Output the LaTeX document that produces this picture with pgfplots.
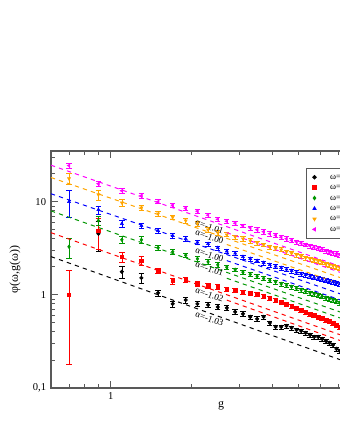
\documentclass[border=0pt]{standalone}
\usepackage{fontspec}
\setmainfont{Liberation Serif}
\usepackage{pgfplots}
\pgfplotsset{compat=1.18}
\usepackage{pgfplotstable}

\definecolor{cgreen}{RGB}{0,150,0}
\definecolor{corange}{RGB}{255,165,0}
\definecolor{cmagenta}{RGB}{255,0,255}
\definecolor{cblue}{RGB}{0,0,255}
\definecolor{cred}{RGB}{255,0,0}

% g, phi, error
\pgfplotstableread{
g p e
0.9 4.53 1.6
1.1 1.77 0.28
1.3 1.52 0.2
1.5 1.05 0.08
1.7 0.80 0.06
1.9 0.88 0.06
2.1 0.80 0.05
2.3 0.78 0.05
2.5 0.74 0.045
2.7 0.725 0.04
2.9 0.657 0.035
3.1 0.625 0.033
3.3 0.580 0.03
3.5 0.552 0.03
3.7 0.580 0.03
3.9 0.500 0.025
4.1 0.453 0.023
4.3 0.453 0.023
4.5 0.464 0.023
4.7 0.442 0.022
4.9 0.420 0.021
5.1 0.410 0.02
5.3 0.390 0.02
5.5 0.372 0.019
5.7 0.354 0.018
5.9 0.354 0.018
6.1 0.337 0.017
6.3 0.320 0.016
6.5 0.305 0.015
6.7 0.290 0.015
6.9 0.263 0.013
7.1 0.250 0.013
7.3 0.244 0.012
}\tblk

\pgfplotstableread{
g p e
0.7 1.00 0.82
0.9 4.88 1.8
1.1 2.56 0.3
1.3 2.32 0.25
1.5 1.81 0.12
1.7 1.41 0.1
1.9 1.45 0.09
2.1 1.31 0.08
2.3 1.25 0.07
2.5 1.22 0.07
2.7 1.16 0.06
2.9 1.13 0.06
3.1 1.077 0.055
3.3 1.05 0.05
3.5 1.025 0.05
3.7 0.975 0.05
3.9 0.929 0.045
4.1 0.884 0.044
4.3 0.841 0.042
4.5 0.800 0.04
4.7 0.762 0.038
4.9 0.725 0.036
5.1 0.690 0.035
5.3 0.657 0.033
5.5 0.625 0.031
5.7 0.602 0.03
5.9 0.580 0.029
6.1 0.559 0.028
6.3 0.538 0.027
6.5 0.519 0.026
6.7 0.500 0.025
6.9 0.476 0.024
7.1 0.453 0.023
7.3 0.442 0.022
}\tred

\pgfplotstableread{
g p e
0.7 3.28 0.8
0.9 6.25 0.7
1.1 3.90 0.35
1.3 3.90 0.3
1.5 3.20 0.2
1.7 2.90 0.17
1.9 2.66 0.15
2.1 2.44 0.13
2.3 2.26 0.12
2.5 2.10 0.11
2.7 1.98 0.1
2.9 1.86 0.09
3.1 1.75 0.09
3.3 1.66 0.08
3.5 1.58 0.08
3.7 1.50 0.075
3.9 1.43 0.07
4.1 1.38 0.07
4.3 1.31 0.065
4.5 1.265 0.063
4.7 1.22 0.06
4.9 1.175 0.058
5.1 1.13 0.056
5.3 1.09 0.054
5.5 1.05 0.052
5.7 1.025 0.05
5.9 0.988 0.049
6.1 0.963 0.048
6.3 0.929 0.046
6.5 0.906 0.045
6.7 0.884 0.044
6.9 0.851 0.042
7.1 0.820 0.041
7.3 0.800 0.04
}\tgrn

\pgfplotstableread{
g p e
0.7 10.0 3.2
0.9 8.2 0.8
1.1 5.8 0.5
1.3 5.52 0.4
1.5 4.88 0.3
1.7 4.31 0.25
1.9 4.0 0.22
2.1 3.67 0.2
2.3 3.53 0.18
2.5 3.20 0.16
2.7 2.94 0.15
2.9 2.79 0.14
3.1 2.56 0.13
3.3 2.44 0.12
3.5 2.32 0.11
3.7 2.21 0.11
3.9 2.10 0.1
4.1 2.03 0.1
4.3 1.95 0.1
4.5 1.88 0.09
4.7 1.81 0.09
4.9 1.746 0.087
5.1 1.68 0.084
5.3 1.64 0.082
5.5 1.58 0.079
5.7 1.54 0.077
5.9 1.50 0.075
6.1 1.47 0.073
6.3 1.43 0.071
6.5 1.40 0.07
6.7 1.38 0.069
6.9 1.346 0.067
7.1 1.31 0.065
7.3 1.30 0.065
}\tblu

\pgfplotstableread{
g p e
0.7 17.7 2.4
0.9 11.9 1.5
1.1 9.75 0.8
1.3 8.62 0.6
1.5 7.43 0.45
1.7 6.81 0.4
1.9 6.25 0.35
2.1 5.80 0.3
2.3 5.0 0.27
2.5 4.64 0.25
2.7 4.42 0.22
2.9 4.20 0.21
3.1 4.0 0.2
3.3 3.81 0.19
3.5 3.62 0.18
3.7 3.45 0.17
3.9 3.28 0.16
4.1 3.16 0.16
4.3 3.05 0.15
4.5 2.90 0.145
4.7 2.79 0.14
4.9 2.69 0.135
5.1 2.59 0.13
5.3 2.50 0.125
5.5 2.44 0.12
5.7 2.35 0.117
5.9 2.29 0.114
6.1 2.24 0.112
6.3 2.15 0.107
6.5 2.10 0.105
6.7 2.05 0.102
6.9 2.00 0.1
7.1 1.95 0.097
7.3 1.90 0.095
}\tora

\pgfplotstableread{
g p e
0.7 24.4 1.7
0.9 15.6 1.0
1.1 13.1 0.8
1.3 11.6 0.6
1.5 10.0 0.5
1.7 9.17 0.45
1.9 8.51 0.42
2.1 7.90 0.4
2.3 7.16 0.36
2.5 6.48 0.32
2.7 6.17 0.3
2.9 5.87 0.29
3.1 5.52 0.27
3.3 5.25 0.26
3.5 5.00 0.25
3.7 4.76 0.24
3.9 4.53 0.23
4.1 4.36 0.22
4.3 4.15 0.21
4.5 4.00 0.2
4.7 3.85 0.19
4.9 3.71 0.185
5.1 3.58 0.18
5.3 3.45 0.17
5.5 3.36 0.17
5.7 3.24 0.16
5.9 3.16 0.16
6.1 3.08 0.15
6.3 2.97 0.15
6.5 2.90 0.145
6.7 2.83 0.14
6.9 2.76 0.14
7.1 2.69 0.135
7.3 2.63 0.13
}\tmag

\pgfplotsset{
  dat/.style={only marks, mark size=1.25pt,
    error bars/y dir=both, error bars/y explicit,
    error bars/error bar style={line width=0.4pt},
    error bars/error mark options={rotate=90, mark size=1.9pt, line width=0.4pt}},
  fit/.style={dashed, line width=0.7pt, forget plot},
}

\begin{document}
\begin{tikzpicture}
\begin{axis}[
  at={(1.275cm,1.3cm)}, anchor=south west,
  scale only axis, width=8.5cm, height=5.925cm,
  xmode=log, ymode=log,
  xmin=0.6, xmax=11, ymin=0.1, ymax=35,
  xtick={1}, xticklabels={1},
  minor xtick={0.7,0.8,0.9,2,3,4,5,6,7,8,9,10},
  ytick={0.1,1,10}, yticklabels={{0,1},1,10},
  minor ytick={0.2,0.3,0.4,0.5,0.6,0.7,0.8,0.9,2,3,4,5,6,7,8,9,20,30},
  tick align=inside,
  major tick length=4.8pt, minor tick length=2.8pt,
  every tick/.style={black!65, line width=0.6pt},
  axis line style={black!65, line width=0.9pt},
  tick label style={font=\fontsize{7.5}{9}\selectfont},
  xlabel={g}, ylabel={φ(ω,g(ω))},
  label style={font=\fontsize{8.5}{10}\selectfont},
  xlabel style={at={(axis description cs:0.5,0)}, anchor=center, yshift=-0.45cm},
  ylabel style={at={(axis description cs:-0.106,0.5)}, anchor=center},
  legend style={at={(0.75,0.928)}, anchor=north west,
    draw=black!65, line width=0.6pt,
    font=\fontsize{6.5}{7}\selectfont,
    nodes={inner sep=0.8pt}, row sep=0pt, column sep=9pt,
    inner xsep=4.5pt, inner ysep=2.5pt},
  legend cell align=left,
]
\addplot[dat, black, mark=*] table[x=g, y=p, y error=e] {\tblk};
\addlegendentry{ω=0.01}
\addplot[dat, cred, mark=square*] table[x=g, y=p, y error=e] {\tred};
\addlegendentry{ω=0.02}
\addplot[dat, cgreen, mark=diamond*] table[x=g, y=p, y error=e] {\tgrn};
\addlegendentry{ω=0.03}
\addplot[dat, cblue, mark=triangle*] table[x=g, y=p, y error=e] {\tblu};
\addlegendentry{ω=0.04}
\addplot[dat, corange, mark=triangle*, mark options={rotate=180}] table[x=g, y=p, y error=e] {\tora};
\addlegendentry{ω=0.05}
\addplot[dat, cmagenta, mark=triangle*, mark options={rotate=90}] table[x=g, y=p, y error=e] {\tmag};
\addlegendentry{ω=0.06}

% power-law fits
\addplot[fit, black] coordinates {(0.6,2.572) (11,0.1286)};
\addplot[fit, cred] coordinates {(0.6,4.647) (11,0.2392)};
\addplot[fit, cgreen] coordinates {(0.6,7.958) (11,0.4216)};
\addplot[fit, cblue] coordinates {(0.6,12.17) (11,0.664)};
\addplot[fit, corange] coordinates {(0.6,18.17) (11,0.991)};
\addplot[fit, cmagenta] coordinates {(0.6,24.63) (11,1.305)};
% second lines, right of the labels
\addplot[fit, cred] coordinates {(2.7,0.878) (11,0.206)};
\addplot[fit, cgreen] coordinates {(2.7,1.507) (11,0.363)};
\addplot[fit, cblue] coordinates {(2.7,2.33) (11,0.571)};
\addplot[fit, corange] coordinates {(2.7,3.47) (11,0.852)};
\addplot[fit, cmagenta] coordinates {(2.7,4.65) (11,1.122)};

\begin{scope}[every node/.style={font=\fontsize{6.5}{7}\selectfont, rotate=-19, inner sep=0pt}]
\node at (axis cs:2.33,5.39) {α=-1.01};
\node at (axis cs:2.33,4.20) {α=-1.00};
\node at (axis cs:2.33,2.69) {α=-1.00};
\node at (axis cs:2.33,1.90) {α=-1.01};
\node at (axis cs:2.33,1.00) {α=-1.02};
\node at (axis cs:2.33,0.552) {α=-1.03};
\end{scope}
\end{axis}
\pgfresetboundingbox
\path[use as bounding box] (0,0) rectangle (8.5cm,11cm);
\end{tikzpicture}
\end{document}
